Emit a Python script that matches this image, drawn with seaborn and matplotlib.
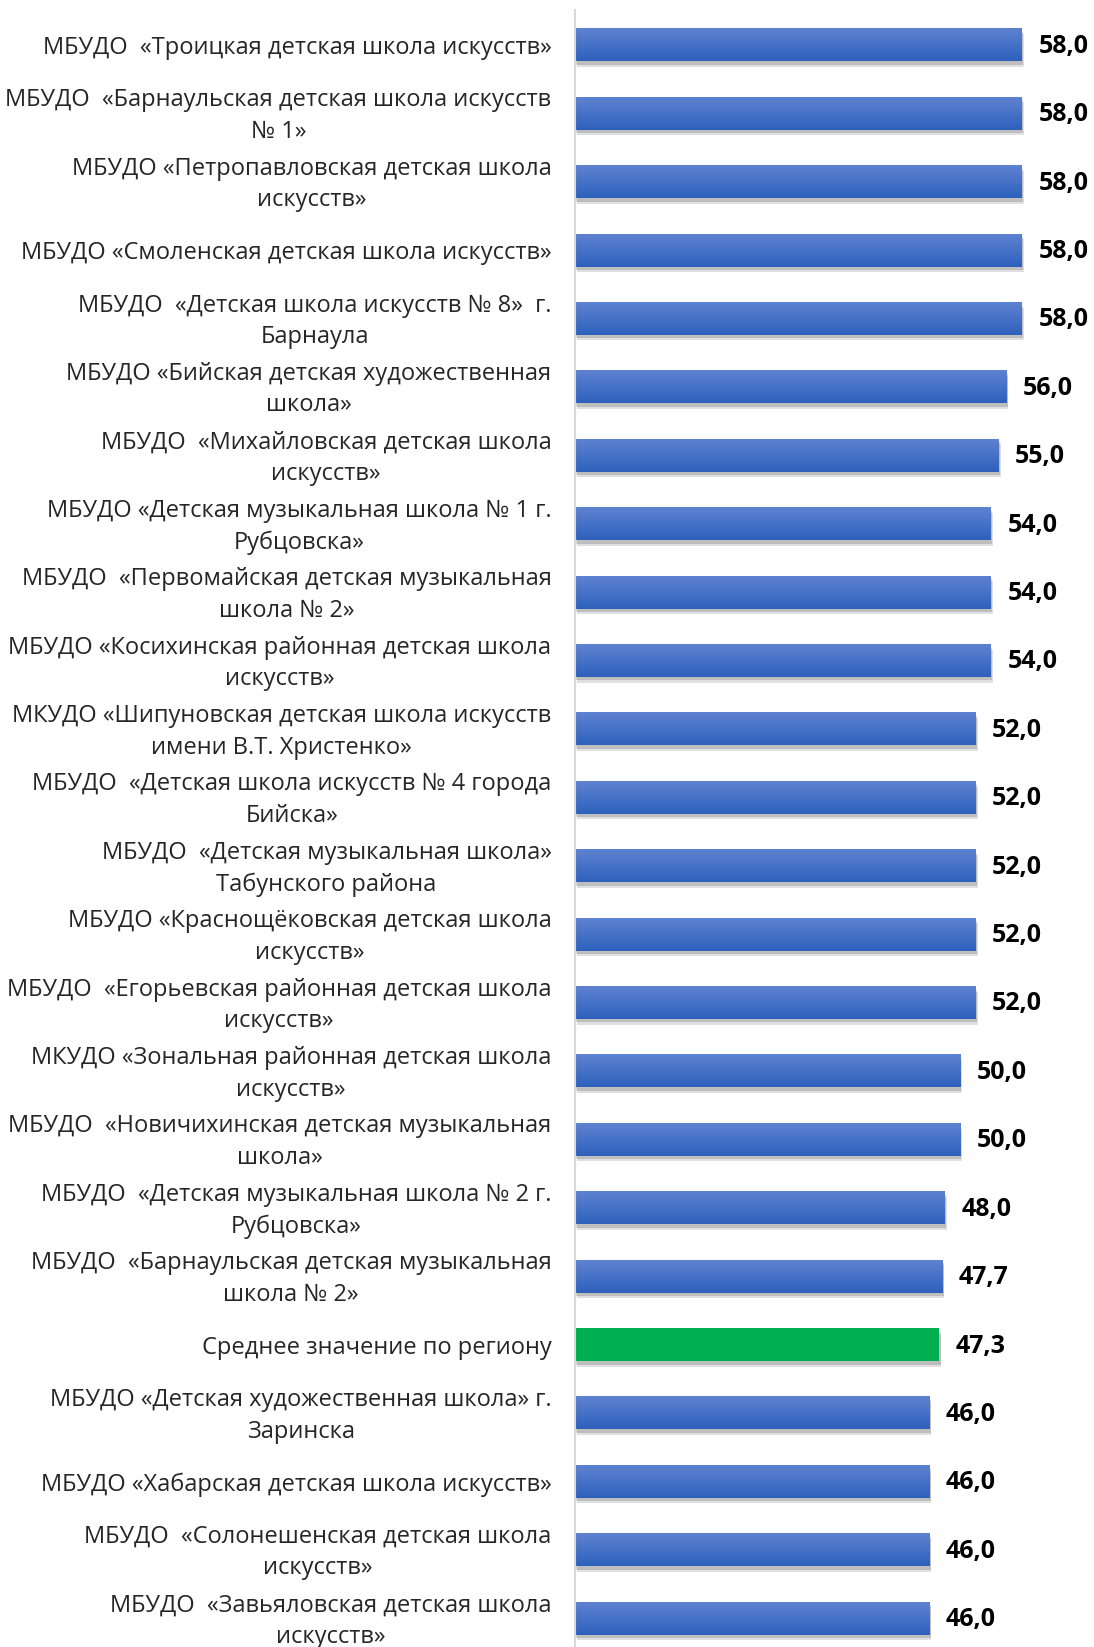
import matplotlib
matplotlib.use("Agg")
import matplotlib.pyplot as plt
import matplotlib.patheffects as pe
import matplotlib.transforms as mtransforms
import numpy as np
import pandas as pd
import seaborn as sns

# schools and their scores (top to bottom as in the reference)
schools = [
    "МБУДО  «Троицкая детская школа искусств»",
    "МБУДО  «Барнаульская детская школа искусств\n№ 1»",
    "МБУДО «Петропавловская детская школа\nискусств»",
    "МБУДО «Смоленская детская школа искусств»",
    "МБУДО  «Детская школа искусств № 8»  г.\nБарнаула",
    "МБУДО «Бийская детская художественная\nшкола»",
    "МБУДО  «Михайловская детская школа\nискусств»",
    "МБУДО «Детская музыкальная школа № 1 г.\nРубцовска»",
    "МБУДО  «Первомайская детская музыкальная\nшкола № 2»",
    "МБУДО «Косихинская районная детская школа\nискусств»",
    "МКУДО «Шипуновская детская школа искусств\nимени В.Т. Христенко»",
    "МБУДО  «Детская школа искусств № 4 города\nБийска»",
    "МБУДО  «Детская музыкальная школа»\nТабунского района",
    "МБУДО «Краснощёковская детская школа\nискусств»",
    "МБУДО  «Егорьевская районная детская школа\nискусств»",
    "МКУДО «Зональная районная детская школа\nискусств»",
    "МБУДО  «Новичихинская детская музыкальная\nшкола»",
    "МБУДО  «Детская музыкальная школа № 2 г.\nРубцовска»",
    "МБУДО  «Барнаульская детская музыкальная\nшкола № 2»",
    "Среднее значение по региону",
    "МБУДО «Детская художественная школа» г.\nЗаринска",
    "МБУДО «Хабарская детская школа искусств»",
    "МБУДО  «Солонешенская детская школа\nискусств»",
    "МБУДО  «Завьяловская детская школа\nискусств»",
]
scores = [58.0, 58.0, 58.0, 58.0, 58.0, 56.0, 55.0, 54.0, 54.0, 54.0,
          52.0, 52.0, 52.0, 52.0, 52.0, 50.0, 50.0, 48.0, 47.7, 47.3,
          46.0, 46.0, 46.0, 46.0]
region_avg_label = "Среднее значение по региону"

df = pd.DataFrame({"school": schools, "score": scores})

sns.set_theme(style="white")
plt.rcParams["font.family"] = ["Open Sans", "DejaVu Sans"]

blue = "#3F6CC8"
green = "#00B050"
palette = {s: (green if s == region_avg_label else blue) for s in schools}

fig = plt.figure(figsize=(10.94, 16.47), dpi=100)
ax = fig.add_axes([0.5256, 0.0, 1 - 0.5256, 1 - 10 / 1647])

sns.barplot(data=df, x="score", y="school", hue="school", palette=palette,
            legend=False, orient="h", width=0.48, ax=ax, saturation=1)

# gradient fill + soft shadow under the bars
grad = np.linspace(0, 1, 64).reshape(-1, 1)
top_c = np.array([0.37, 0.51, 0.82])
bot_c = np.array([0.18, 0.38, 0.74])
for patch, school in zip(ax.patches, schools):
    patch.set_linewidth(0)
    patch.set_path_effects([
        pe.SimplePatchShadow(offset=(1.5, -4), alpha=0.12, shadow_rgbFace="black"),
        pe.SimplePatchShadow(offset=(1, -2.5), alpha=0.15, shadow_rgbFace="black"),
        pe.Normal()])
    if school == region_avg_label:
        continue
    x0, y0 = patch.get_x(), patch.get_y()
    w, h = patch.get_width(), patch.get_height()
    img = top_c + (bot_c - top_c) * grad[:, :, None]
    img = np.repeat(img, 2, axis=1)
    ax.imshow(img, extent=(x0, x0 + w, y0 + h, y0), aspect="auto",
              zorder=patch.get_zorder() + 0.1, interpolation="bilinear")

for i, v in enumerate(scores):
    ax.annotate(f"{v:.1f}".replace(".", ","), xy=(v, i), xytext=(12, -1),
                textcoords="offset points", ha="left", va="center",
                fontsize=18, fontweight="bold", color="black")

ax.set_xlim(0, 67.4)
ax.set_ylim(23.42, -0.51)
ax.set_xlabel("")
ax.set_ylabel("")
ax.set_xticks([])
ax.tick_params(axis="y", length=0, pad=17, labelsize=17)
for side in ["top", "right", "bottom"]:
    ax.spines[side].set_visible(False)
ax.spines["left"].set_color("#D9D9D9")
ax.spines["left"].set_linewidth(1.5)

# two-line labels sit a little high in the reference
lift = mtransforms.ScaledTranslation(0, 4 / 100, fig.dpi_scale_trans)
for lbl in ax.get_yticklabels():
    lbl.set_multialignment("center")
    lbl.set_linespacing(1.42)
    if "\n" in lbl.get_text():
        lbl.set_transform(lbl.get_transform() + lift)

fig.savefig("out.png", dpi=100)
